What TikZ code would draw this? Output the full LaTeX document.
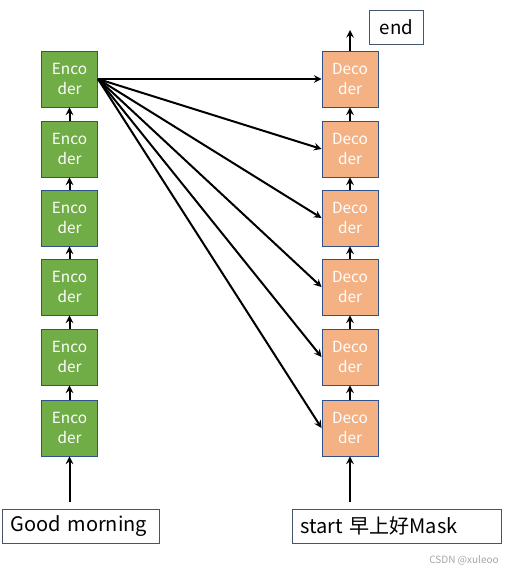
\documentclass[tikz,border=0pt]{standalone}
\usepackage{fontspec}
\setmainfont{Noto Sans CJK SC}
\usepackage{xcolor}
\usetikzlibrary{arrows}

\definecolor{encgreen}{RGB}{112,173,71}
\definecolor{decorange}{RGB}{244,177,131}
\definecolor{boxblue}{RGB}{47,82,143}
\definecolor{boxgray}{RGB}{68,84,106}

\begin{document}
\begin{tikzpicture}[x=0.75pt, y=-0.75pt, >=stealth,
    block/.style={draw=boxblue, line width=0.7pt, minimum width=42pt, minimum height=42pt,
      inner sep=0pt, align=center, text=white, font=\fontsize{11.5}{15}\selectfont},
    enc/.style={block, fill=encgreen},
    dec/.style={block, fill=decorange},
    word/.style={draw=boxgray, line width=0.7pt, minimum height=25.5pt, inner xsep=6pt,
      align=left, font=\fontsize{15}{18}\selectfont},
    link/.style={->, line width=1.5pt}]

      \useasboundingbox (0,0) rectangle (517,573);

      \foreach \y [count=\i from 1] in {79, 149, 218, 287, 357, 428}
      {
      \node[enc] (enc\i) at (69.5,\y) {Enco\\der};
      \node[dec] (dec\i) at (350,\y) {Deco\\der};
      }

      \foreach \i [count=\j from 2] in {1, ..., 5}
      {
      \draw[link] (enc\j.north) -- (enc\i.south);
      \draw[link] (dec\j.north) -- (dec\i.south);
      }

      \foreach \i in {1, ..., 6}
      \draw[link] (enc1.east) -- (dec\i.west);

      \node[word, anchor=west, text width=106pt] (src) at (2,526) {Good morning};
      \node[word, anchor=west, text width=145pt] (tgt) at (292,526) {start 早上好Mask};
      \node[draw=boxgray, line width=0.7pt, minimum width=41pt, minimum height=25.5pt,
        font=\fontsize{14}{16}\selectfont] (out) at (396.5,27) {end};
      \coordinate (top) at (350,30);

      \draw[link, shorten <=5pt] (enc6.south |- src.north) -- (enc6.south);
      \draw[link, shorten <=5pt] (dec6.south |- tgt.north) -- (dec6.south);
      \draw[link] (dec1.north) -- (top);

      \node[text=gray!70, font=\fontsize{7.5}{9}\selectfont] (mark) at (464,560) {CSDN @xuleoo};
    \end{tikzpicture}
\end{document}
